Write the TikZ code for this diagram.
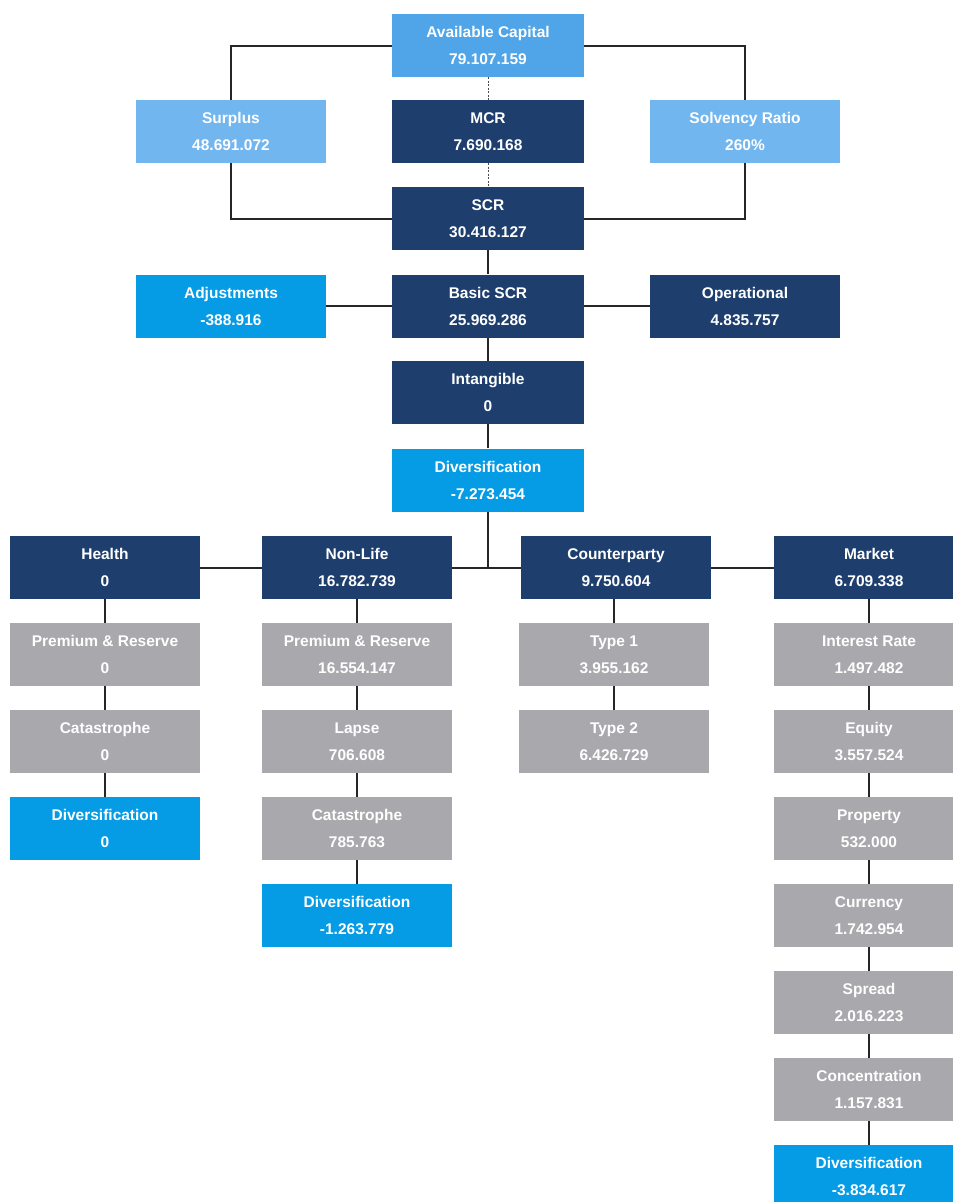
\documentclass[tikz,border=0pt]{standalone}
\usepackage{fontspec}
\setmainfont{Liberation Sans}
\definecolor{dkblue}{HTML}{1E3F6E}
\definecolor{ltblue}{HTML}{4FA5E8}
\definecolor{paleblue}{HTML}{72B6F0}
\definecolor{brblue}{HTML}{069BE5}
\definecolor{greybox}{HTML}{A9A8AC}
\tikzset{
  box/.style={rectangle, minimum width=190pt, minimum height=63pt, inner sep=0pt,
    text=white, align=center, font=\bfseries\fontsize{15.5}{27}\selectfont},
  dk/.style={box, fill=dkblue},
  lt/.style={box, fill=ltblue},
  pale/.style={box, fill=paleblue},
  br/.style={box, fill=brblue},
  gr/.style={box, fill=greybox},
  conn/.style={draw=black!85, line width=2pt},
  dotconn/.style={draw=black!70, line width=1pt, dash pattern=on 2pt off 1.5pt}
}
\begin{document}
\begin{tikzpicture}[x=1pt,y=-1pt]
\clip (0,0) rectangle (953,1202);
\fill[white] (0,0) rectangle (953,1202);
% top block
\node[lt, minimum width=192pt] (ac) at (488,45.5) {Available Capital\\79.107.159};
\node[pale] (sur) at (231,131.5) {Surplus\\48.691.072};
\node[dk, minimum width=192pt] (mcr) at (488,131.5) {MCR\\7.690.168};
\node[pale] (sol) at (745,131.5) {Solvency Ratio\\260\%};
\node[dk, minimum width=192pt] (scr) at (488,218.5) {SCR\\30.416.127};
\node[br] (adj) at (231,306) {Adjustments\\-388.916};
\node[dk, minimum width=192pt] (bscr) at (488,306) {Basic SCR\\25.969.286};
\node[dk] (op) at (745,306) {Operational\\4.835.757};
\node[dk, minimum width=192pt] (intang) at (488,392.5) {Intangible\\0};
\node[br, minimum width=192pt] (div) at (488,480) {Diversification\\-7.273.454};
% modules
\node[dk] (health) at (105,567.5) {Health\\0};
\node[dk] (nonlife) at (357,567.5) {Non-Life\\16.782.739};
\node[dk] (cp) at (616,567.5) {Counterparty\\9.750.604};
\node[dk] (mkt) at (869,567.5) {Market\\6.709.338};
% health column
\node[gr] (hpr) at (105,654.5) {Premium \& Reserve\\0};
\node[gr] (hcat) at (105,741.5) {Catastrophe\\0};
\node[br] (hdiv) at (105,828.5) {Diversification\\0};
% non-life column
\node[gr] (npr) at (357,654.5) {Premium \& Reserve\\16.554.147};
\node[gr] (nlapse) at (357,741.5) {Lapse\\706.608};
\node[gr] (ncat) at (357,828.5) {Catastrophe\\785.763};
\node[br] (ndiv) at (357,915.5) {Diversification\\-1.263.779};
% counterparty column
\node[gr] (t1) at (614,654.5) {Type 1\\3.955.162};
\node[gr] (t2) at (614,741.5) {Type 2\\6.426.729};
% market column
\node[gr] (ir) at (869,654.5) {Interest Rate\\1.497.482};
\node[gr] (eq) at (869,741.5) {Equity\\3.557.524};
\node[gr] (prop) at (869,828.5) {Property\\532.000};
\node[gr] (cur) at (869,915.5) {Currency\\1.742.954};
\node[gr] (spr) at (869,1002.5) {Spread\\2.016.223};
\node[gr] (conc) at (869,1089.5) {Concentration\\1.157.831};
\node[br] (mdiv) at (869,1176.5) {Diversification\\-3.834.617};
% connectors top
\draw[conn] (ac.west) -| (sur.north);
\draw[conn] (ac.east) -| (sol.north);
\draw[conn] (sur.south) |- (scr.west);
\draw[conn] (sol.south) |- (scr.east);
\draw[dotconn] (ac.south) -- (mcr.north);
\draw[dotconn] (mcr.south) -- (scr.north);
\draw[conn] (scr.south) -- (bscr.north);
\draw[conn] (adj.east) -- (bscr.west);
\draw[conn] (bscr.east) -- (op.west);
\draw[conn] (bscr.south) -- (intang.north);
\draw[conn] (intang.south) -- (div.north);
\coordinate (bus) at (488,567.5);
\draw[conn] (div.south) -- (bus);
\draw[conn] (health.east) -- (nonlife.west);
\draw[conn] (nonlife.east) -- (cp.west);
\draw[conn] (cp.east) -- (mkt.west);
% columns
\draw[conn] (health.south) -- (hpr.north);
\draw[conn] (hpr.south) -- (hcat.north);
\draw[conn] (hcat.south) -- (hdiv.north);
\draw[conn] (nonlife.south) -- (npr.north);
\draw[conn] (npr.south) -- (nlapse.north);
\draw[conn] (nlapse.south) -- (ncat.north);
\draw[conn] (ncat.south) -- (ndiv.north);
\draw[conn] (cp.south -| t1.north) -- (t1.north);
\draw[conn] (t1.south) -- (t2.north);
\draw[conn] (mkt.south) -- (ir.north);
\draw[conn] (ir.south) -- (eq.north);
\draw[conn] (eq.south) -- (prop.north);
\draw[conn] (prop.south) -- (cur.north);
\draw[conn] (cur.south) -- (spr.north);
\draw[conn] (spr.south) -- (conc.north);
\draw[conn] (conc.south) -- (mdiv.north);
\end{tikzpicture}
\end{document}
